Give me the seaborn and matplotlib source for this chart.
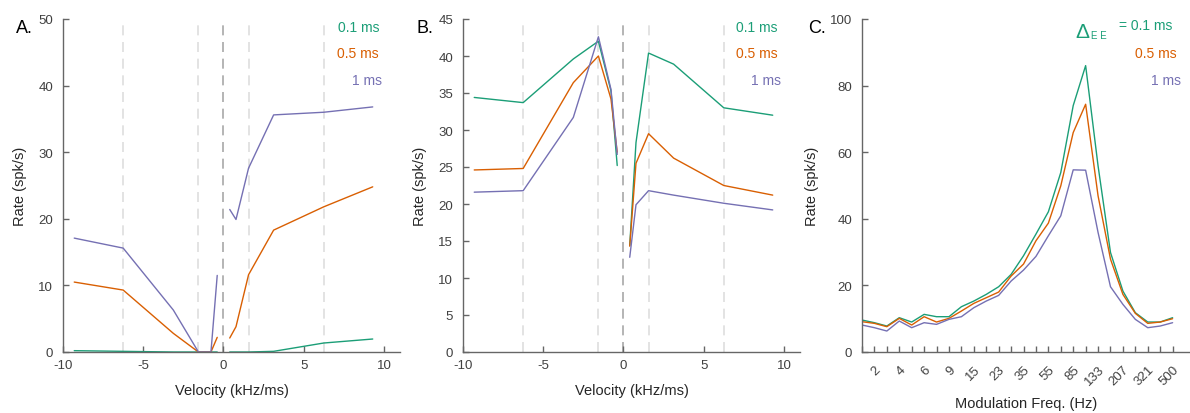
import numpy as np
import pandas as pd
import matplotlib
matplotlib.use("Agg")
import matplotlib.pyplot as plt
import seaborn as sns

# ---------------- data ----------------
durations = ["0.1 ms", "0.5 ms", "1 ms"]
colors = ["#1b9e77", "#d95f02", "#7570b3"]

velocity_neg = [-9.3, -6.25, -3.125, -1.5625, -0.78, -0.39]
velocity_pos = [0.39, 0.78, 1.5625, 3.125, 6.25, 9.3]
dashed_velocities = [-6.25, -1.5625, 1.5625, 6.25]

# Panel A (negative side then positive side)
a_neg = {
    "0.1 ms": [0.2, 0.1, 0.0, 0.0, 0.0, 0.0],
    "0.5 ms": [10.5, 9.3, 2.8, 0.0, 0.0, 2.2],
    "1 ms":   [17.1, 15.6, 6.3, 0.0, 0.0, 11.5],
}
a_pos = {
    "0.1 ms": [0.0, 0.0, 0.0, 0.1, 1.35, 1.95],
    "0.5 ms": [2.1, 3.8, 11.6, 18.3, 21.8, 24.8],
    "1 ms":   [21.4, 19.9, 27.6, 35.6, 36.0, 36.8],
}
# Panel B
b_neg = {
    "0.1 ms": [34.4, 33.7, 39.6, 42.0, 35.3, 25.2],
    "0.5 ms": [24.6, 24.8, 36.4, 40.0, 34.2, 27.0],
    "1 ms":   [21.6, 21.8, 31.7, 42.6, 35.5, 26.7],
}
b_pos = {
    "0.1 ms": [14.4, 28.3, 40.4, 38.9, 33.0, 32.0],
    "0.5 ms": [14.3, 25.5, 29.5, 26.2, 22.5, 21.2],
    "1 ms":   [12.8, 19.9, 21.8, 21.2, 20.1, 19.2],
}
# Panel C
mod_freqs = [1.6, 2, 3, 4, 5, 6, 7, 9, 12, 15, 19, 23, 29, 35, 44, 55,
             68, 85, 106, 133, 166, 207, 258, 321, 400, 500]
c_rates = {
    "0.1 ms": [9.6, 8.8, 7.8, 10.3, 9.0, 11.3, 10.6, 10.6, 13.6, 15.3, 17.3, 19.6,
               23.3, 28.9, 35.4, 42.1, 53.9, 74.0, 86.0, 55.9, 29.9, 18.3, 11.8,
               9.0, 9.0, 10.3],
    "0.5 ms": [9.1, 8.6, 7.6, 10.1, 8.1, 10.6, 9.0, 10.1, 12.3, 14.6, 16.3, 18.0,
               22.8, 26.4, 33.4, 38.7, 49.9, 65.9, 74.4, 46.9, 27.9, 17.3, 11.6,
               8.6, 9.0, 10.0],
    "1 ms":   [8.1, 7.3, 6.3, 9.3, 7.3, 8.8, 8.3, 9.8, 10.6, 13.3, 15.3, 17.0,
               21.3, 24.6, 28.7, 34.9, 40.9, 54.7, 54.6, 35.9, 19.6, 14.3, 9.8,
               7.3, 7.8, 8.8],
}

# ---------------- style ----------------
sns.set_style("ticks")
plt.rcParams["font.family"] = ["Liberation Sans", "DejaVu Sans"]
plt.rcParams["axes.edgecolor"] = "#666666"
plt.rcParams["axes.linewidth"] = 1.0
plt.rcParams["axes.unicode_minus"] = False

W, H = 1190, 414
fig = plt.figure(figsize=(W / 100, H / 100), dpi=100)


def px_axes(left, top, right, bottom):
    return fig.add_axes([left / W, (H - bottom) / H, (right - left) / W, (bottom - top) / H])


palette = dict(zip(durations, colors))
tick_color = "#404040"
label_color = "#262626"


def style_axes(ax):
    sns.despine(ax=ax)
    ax.tick_params(direction="in", length=4, width=1, colors="#666666",
                   labelcolor=tick_color, labelsize=9.5)
    ax.tick_params(axis="y", pad=7)
    ax.tick_params(axis="x", pad=5)


def velocity_df(neg, pos):
    rows = []
    for d in durations:
        for v, r in zip(velocity_neg, neg[d]):
            rows.append({"v": v, "rate": r, "dur": d, "side": "neg"})
        for v, r in zip(velocity_pos, pos[d]):
            rows.append({"v": v, "rate": r, "dur": d, "side": "pos"})
    return pd.DataFrame(rows)


def velocity_panel(ax, neg, pos, ymax, ystep):
    for xv in dashed_velocities:
        ax.axvline(xv, color="#dedede", lw=1.2, dashes=(6, 4), zorder=0)
    ax.axvline(0, color="#a8a8a8", lw=1.2, dashes=(6, 4), zorder=0)
    df = velocity_df(neg, pos)
    sns.lineplot(data=df, x="v", y="rate", hue="dur", units="side", estimator=None,
                 palette=palette, legend=False, lw=1.0, ax=ax, sort=False)
    ax.set_xlim(-10, 11)
    ax.set_ylim(0, ymax)
    ax.set_xticks([-10, -5, 0, 5, 10])
    ax.set_yticks(np.arange(0, ymax + 0.1, ystep))
    ax.set_xlabel("Velocity (kHz/ms)", fontsize=10.5, color=label_color, labelpad=9)
    ax.set_ylabel("Rate (spk/s)", fontsize=10.5, color=label_color, labelpad=8)
    style_axes(ax)


axA = px_axes(63, 20, 400, 353)
velocity_panel(axA, a_neg, a_pos, 50, 10)
axB = px_axes(463, 20, 800, 353)
velocity_panel(axB, b_neg, b_pos, 45, 5)

# Panel C
axC = px_axes(862, 20, 1190, 353)
rows = []
for d in durations:
    for i, (f, r) in enumerate(zip(mod_freqs, c_rates[d])):
        rows.append({"idx": i, "freq": f, "rate": r, "dur": d})
dfc = pd.DataFrame(rows)
sns.lineplot(data=dfc, x="idx", y="rate", hue="dur", palette=palette, legend=False,
             lw=1.0, ax=axC, estimator=None)
axC.set_xlim(0, 26.4)
axC.set_ylim(0, 100)
axC.set_yticks([0, 20, 40, 60, 80, 100])
axC.set_xticks(range(len(mod_freqs)))
axC.set_xticklabels([str(f) if i % 2 == 1 else "" for i, f in enumerate(mod_freqs)],
                    rotation=45, ha="right", rotation_mode="anchor")
axC.set_xlabel("Modulation Freq. (Hz)", fontsize=10.5, color=label_color, labelpad=6)
axC.set_ylabel("Rate (spk/s)", fontsize=10.5, color=label_color, labelpad=8)
style_axes(axC)
axC.tick_params(axis="x", pad=8)


def ftext(x, y, s, **kw):
    fig.text(x / W, (H - y) / H, s, **kw)


# panel letters
for x, s in [(16, "A."), (416, "B."), (808, "C.")]:
    ftext(x, 33, s, fontsize=13, color="black", ha="left", va="baseline")

# legends A and B
for right in (379, 778):
    ftext(right, 32, "0.1 ms", fontsize=10, color=colors[0], ha="right", va="baseline")
    ftext(right, 58, "0.5 ms", fontsize=10, color=colors[1], ha="right", va="baseline")
    ftext(right + 3, 85, "1 ms", fontsize=10, color=colors[2], ha="right", va="baseline")

# legend C
ftext(1075, 38, "\u0394", fontsize=15, color=colors[0], ha="left", va="baseline")
ftext(1091, 39, "E E", fontsize=7, color=colors[0], ha="left", va="baseline")
ftext(1172, 30, "= 0.1 ms", fontsize=10, color=colors[0], ha="right", va="baseline")
ftext(1177, 58, "0.5 ms", fontsize=10, color=colors[1], ha="right", va="baseline")
ftext(1181, 85, "1 ms", fontsize=10, color=colors[2], ha="right", va="baseline")

fig.savefig("out.png", dpi=100)
